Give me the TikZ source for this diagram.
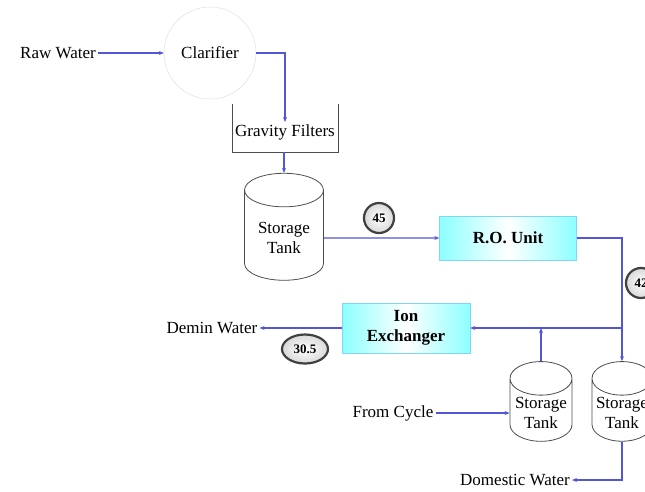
\documentclass[tikz,border=0pt]{standalone}
\usepackage{fontspec}
\setmainfont{Liberation Serif}
\usetikzlibrary{arrows.meta,shapes.geometric}
\definecolor{pipe}{RGB}{85,85,215}

\begin{document}
\begin{tikzpicture}[x=1pt, y=-1pt,
  every node/.style={font=\fontsize{17}{19.5}\selectfont, align=center, inner sep=2pt},
  pipe/.style={draw=pipe, line width=1.3pt, -{Stealth[length=5pt, width=4pt]}},
  tank/.style={cylinder, shape border rotate=90, draw=black!70, line width=0.8pt, aspect=0.6},
  unit/.style={rectangle, draw=cyan!50, left color=cyan!45, right color=cyan!45, middle color=white, font=\bfseries\fontsize{17}{19.5}\selectfont},
  rate/.style={circle, draw=black!75, line width=2.2pt, inner color=white, outer color=gray!30, font=\bfseries\fontsize{13}{13}\selectfont, inner sep=1pt, minimum size=30pt}]
\useasboundingbox (0,0) rectangle (645,491);
\clip (0,0) rectangle (645,491);

\node (raw) at (58,53) {Raw Water};
\node[circle, draw=gray!30, minimum size=92pt] (clar) at (210,53) {Clarifier};
\node (grav) at (285,132) {Gravity Filters};
\coordinate (gravout) at (284,152);
\node[tank, minimum width=79pt, minimum height=107pt] (st1) at (284,238) {Storage\\Tank};
\node[unit, minimum width=137pt, minimum height=44pt] (ro) at (508,238) {R.O. Unit};
\node[unit, minimum width=128pt, minimum height=50pt] (ix) at (406,328) {Ion\\Exchanger};
\node (demin) at (212,328) {Demin Water};
\node[tank, minimum width=62pt, minimum height=64pt] (st2) at (541,413) {Storage\\Tank};
\node[tank, minimum width=60pt, minimum height=64pt] (st3) at (622,413) {Storage\\Tank};
\node (cyc) at (393,413) {From Cycle};
\node (dom) at (515,480) {Domestic Water};
\coordinate (join) at (622,328);

\node[rate] (r45) at (379,218) {45};
\node[rate] (r42) at (641,283) {42};
\node[rate, ellipse, minimum width=46pt, minimum height=29pt] (r30) at (305,349) {30.5};

\draw[black!70, line width=0.8pt] (232,104) |- (338,152) -- (338,104);

\draw[pipe] (raw) -- (clar);
\draw[pipe] (clar.east) -| (grav.north);
\draw[pipe] (gravout) -- (st1.top);
\draw[pipe] (st1) -- (ro);
\draw[pipe] (ro.east) -| (st3.top);
\draw[pipe] (join) -- (ix.east);
\draw[pipe] (st2.top) -- (st2.top |- ix.east);
\draw[pipe] (ix.west) -- (demin.east);
\draw[pipe] (cyc) -- (st2);
\draw[pipe] (st3.bottom) |- (dom.east);
\end{tikzpicture}
\end{document}
